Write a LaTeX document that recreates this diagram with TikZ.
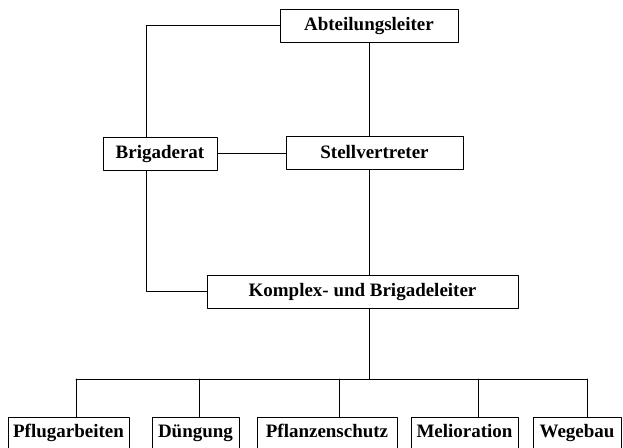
\documentclass[tikz,border=0pt]{standalone}
\usepackage{fontspec}
\setmainfont{Liberation Serif}
\begin{document}
\begin{tikzpicture}[line width=0.6pt, line cap=round, line join=round,
    kasten/.style={draw, minimum height=0.825cm, inner sep=0pt,
      text height=1.9ex, text depth=0.3ex,
      font=\bfseries\fontsize{13.5}{16}\selectfont}]
  \useasboundingbox (0,0) rectangle (15.575,11.2);
  % die Leitung oben
  \node[kasten, minimum width=4.45cm] (abt) at (9.225,10.5625) {Abteilungsleiter};
  \node[kasten, minimum width=2.85cm] (brig) at (4.0,7.3625) {Brigaderat};
  \node[kasten, minimum width=4.425cm] (stell) at (9.3625,7.375) {Stellvertreter};
  \node[kasten, minimum width=7.775cm] (komplex) at (9.0625,3.9125) {Komplex- und Brigadeleiter};
  % die Bereiche unten
  \node[kasten, minimum width=3.025cm, minimum height=0.775cm] (pflug) at (1.7125,0.3875) {Pflugarbeiten};
  \node[kasten, minimum width=2.175cm, minimum height=0.775cm] (dueng) at (4.8875,0.3875) {Düngung};
  \node[kasten, minimum width=3.5cm, minimum height=0.775cm] (pflanz) at (8.175,0.3875) {Pflanzenschutz};
  \node[kasten, minimum width=2.675cm, minimum height=0.775cm] (melio) at (11.6125,0.3875) {Melioration};
  \node[kasten, minimum width=2.2cm, minimum height=0.775cm] (wege) at (14.425,0.3875) {Wegebau};
  % Hilfslinien: links, Stamm und Schiene
  \coordinate (links) at (3.65,0);
  \coordinate (stamm) at (9.225,0);
  \coordinate (bus) at (0,1.725);
  % die Verbindungen
  \draw (abt.west) -- (abt.west -| links) -- (brig.north -| links);
  \draw (brig.south -| links) |- (komplex.west);
  \draw (brig.east) -- (brig.east -| stell.west);
  \draw (abt.south) -- (stell.north -| stamm);
  \draw (stell.south -| stamm) -- (komplex.north -| stamm);
  \draw (komplex.south -| stamm) -- (bus -| stamm);
  \draw (bus -| 1.9,0) -- (bus -| 14.675,0);
  \foreach \n/\x in {pflug/1.9, dueng/4.975, pflanz/8.475, melio/11.95, wege/14.675} {
    \draw (bus -| \x,0) -- (\n.north -| \x,0);
  }
\end{tikzpicture}
\end{document}
